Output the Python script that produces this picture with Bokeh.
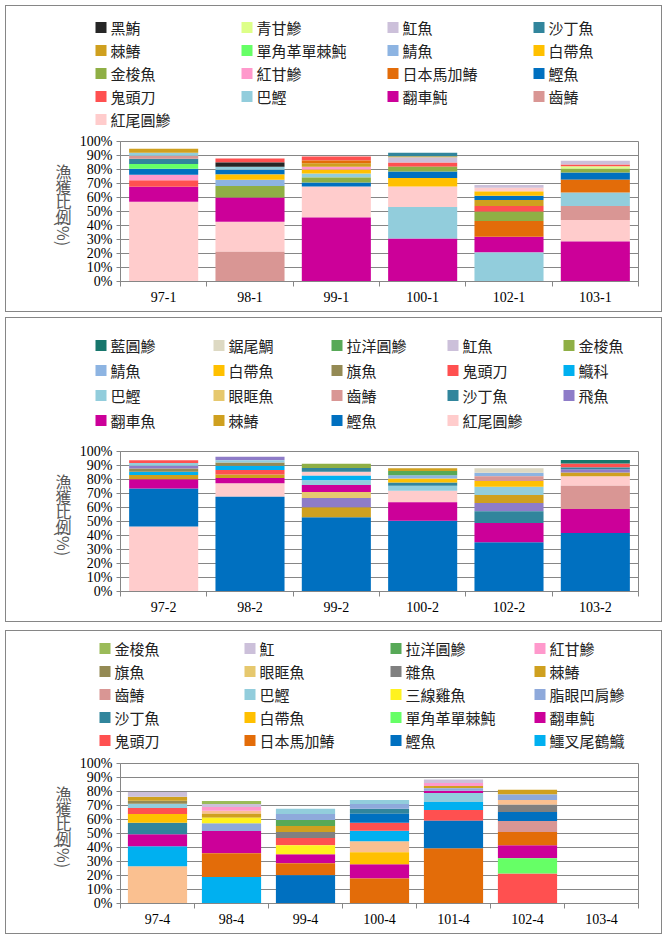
import math
from bokeh.plotting import figure
from bokeh.models import (FixedTicker, Range1d, Spacer, ColumnDataSource, PrintfTickFormatter)
from bokeh.core.properties import value
from bokeh.layouts import column, row
from bokeh.embed import file_html
from bokeh.resources import INLINE

# ---------------- colours per species ----------------
COLORS = {
    "黑鮪": "#262626", "青甘鰺": "#DDFF88", "魟魚": "#CCC0DA", "魟": "#CCC0DA",
    "沙丁魚": "#31859C", "棘鰆": "#CFA01F", "單角革單棘魨": "#66FF66",
    "鯖魚": "#8DB4E2", "白帶魚": "#FFC000", "金梭魚": "#8FAF45",
    "紅甘鰺": "#FF99CC", "日本馬加鰆": "#E36C09", "鰹魚": "#0070C0",
    "鬼頭刀": "#FF5050", "巴鰹": "#92CDDC", "翻車魨": "#CC0099", "翻車魚": "#CC0099",
    "齒鰆": "#D99694", "紅尾圓鰺": "#FFCCCC", "藍圓鰺": "#17766C",
    "鋸尾鯛": "#DDD9C3", "拉洋圓鰺": "#57A957", "旗魚": "#948A54",
    "鱵科": "#00B0F0", "眼眶魚": "#E6C86E", "飛魚": "#8E7CC8",
    "雜魚": "#808080", "三線雞魚": "#FFF21F", "脂眼凹肩鰺": "#8EA9DB",
    "鱷叉尾鶴鱵": "#00B0F0",
}
P3_COLORS = dict(COLORS, **{"紅尾圓鰺": "#FAC090", "金梭魚": "#9BBB59"})

# ---------------- panel 1 ----------------
P1_CATS = ["97-1", "98-1", "99-1", "100-1", "102-1", "103-1"]
P1_LEGEND = ["黑鮪", "青甘鰺", "魟魚", "沙丁魚", "棘鰆", "單角革單棘魨", "鯖魚", "白帶魚",
             "金梭魚", "紅甘鰺", "日本馬加鰆", "鰹魚", "鬼頭刀", "巴鰹", "翻車魨", "齒鰆",
             "紅尾圓鰺"]
P1_SPECIES = [
    ["紅尾圓鰺", "翻車魨", "鬼頭刀", "紅甘鰺", "鰹魚", "單角革單棘魨", "沙丁魚", "齒鰆", "巴鰹", "棘鰆"],
    ["齒鰆", "紅尾圓鰺", "翻車魨", "金梭魚", "鯖魚", "白帶魚", "鰹魚", "巴鰹", "黑鮪", "鬼頭刀"],
    ["翻車魨", "紅尾圓鰺", "鰹魚", "金梭魚", "巴鰹", "白帶魚", "紅甘鰺", "棘鰆", "日本馬加鰆", "鬼頭刀"],
    ["翻車魨", "巴鰹", "紅尾圓鰺", "白帶魚", "鰹魚", "金梭魚", "鬼頭刀", "魟魚", "棘鰆", "沙丁魚"],
    ["巴鰹", "翻車魨", "日本馬加鰆", "金梭魚", "鬼頭刀", "棘鰆", "鰹魚", "白帶魚", "紅尾圓鰺", "魟魚"],
    ["翻車魨", "紅尾圓鰺", "齒鰆", "巴鰹", "日本馬加鰆", "鰹魚", "金梭魚", "青甘鰺", "鬼頭刀", "魟魚"],
]
P1_VALUES = [
    [56.9, 10.7, 4.8, 3.8, 4.3, 3.5, 3.6, 2.2, 2.1, 2.9],
    [21.2, 21.4, 17.4, 8.3, 4.3, 3.8, 3.4, 2.1, 3.1, 2.9],
    [45.7, 22.2, 2.8, 3.6, 2.8, 2.7, 2.1, 2.6, 1.9, 2.9],
    [30.7, 22.6, 14.6, 6.1, 4.6, 3.3, 3.1, 3.6, 0.7, 2.6],
    [20.7, 11.2, 11.4, 6.5, 4.2, 4.3, 2.9, 3.1, 2.6, 2.1],
    [28.6, 15.4, 10.0, 9.6, 9.0, 5.3, 2.8, 1.4, 1.5, 2.6],
]

# ---------------- panel 2 ----------------
P2_CATS = ["97-2", "98-2", "99-2", "100-2", "102-2", "103-2"]
P2_LEGEND = ["藍圓鰺", "鋸尾鯛", "拉洋圓鰺", "魟魚", "金梭魚", "鯖魚", "白帶魚", "旗魚",
             "鬼頭刀", "鱵科", "巴鰹", "眼眶魚", "齒鰆", "沙丁魚", "飛魚", "翻車魚", "棘鰆",
             "鰹魚", "紅尾圓鰺"]
P2_SPECIES = [
    ["紅尾圓鰺", "鰹魚", "翻車魚", "棘鰆", "鱵科", "旗魚", "飛魚", "巴鰹", "鬼頭刀"],
    ["鰹魚", "紅尾圓鰺", "翻車魚", "棘鰆", "鬼頭刀", "鱵科", "旗魚", "巴鰹", "飛魚"],
    ["鰹魚", "棘鰆", "飛魚", "眼眶魚", "翻車魚", "巴鰹", "鱵科", "紅尾圓鰺", "沙丁魚", "金梭魚"],
    ["鰹魚", "翻車魚", "紅尾圓鰺", "巴鰹", "沙丁魚", "白帶魚", "鯖魚", "拉洋圓鰺", "棘鰆"],
    ["鰹魚", "翻車魚", "沙丁魚", "飛魚", "棘鰆", "巴鰹", "白帶魚", "齒鰆", "鯖魚", "鋸尾鯛"],
    ["鰹魚", "翻車魚", "齒鰆", "紅尾圓鰺", "棘鰆", "飛魚", "沙丁魚", "鬼頭刀", "藍圓鰺"],
]
P2_VALUES = [
    [46.4, 27.2, 6.6, 3.1, 2.2, 2.4, 1.9, 1.9, 2.1],
    [67.6, 9.8, 3.6, 2.6, 3.1, 3.1, 2.3, 1.7, 2.4],
    [53.1, 7.1, 6.5, 4.3, 5.0, 3.3, 3.3, 2.9, 2.8, 2.9],
    [50.5, 13.3, 8.1, 3.6, 2.4, 2.8, 2.4, 2.9, 2.1],
    [35.2, 13.8, 8.4, 5.9, 5.7, 5.8, 4.2, 3.4, 2.4, 3.3],
    [41.7, 17.3, 16.5, 6.9, 2.6, 2.4, 1.2, 2.8, 2.6],
]

# ---------------- panel 3 ----------------
P3_CATS = ["97-4", "98-4", "99-4", "100-4", "101-4", "102-4", "103-4"]
P3_LEGEND = ["金梭魚", "魟", "拉洋圓鰺", "紅甘鰺", "旗魚", "眼眶魚", "雜魚", "棘鰆",
             "齒鰆", "巴鰹", "三線雞魚", "脂眼凹肩鰺", "沙丁魚", "白帶魚", "單角革單棘魨", "翻車魨",
             "鬼頭刀", "日本馬加鰆", "鰹魚", "鱷叉尾鶴鱵"]
P3_SPECIES = [
    ["紅尾圓鰺", "鱷叉尾鶴鱵", "翻車魨", "沙丁魚", "白帶魚", "鬼頭刀", "巴鰹", "旗魚", "棘鰆", "魟"],
    ["鱷叉尾鶴鱵", "日本馬加鰆", "翻車魨", "脂眼凹肩鰺", "三線雞魚", "棘鰆", "紅尾圓鰺", "紅甘鰺", "魟", "金梭魚"],
    ["鰹魚", "日本馬加鰆", "翻車魨", "三線雞魚", "鬼頭刀", "雜魚", "棘鰆", "拉洋圓鰺", "脂眼凹肩鰺", "巴鰹"],
    ["日本馬加鰆", "翻車魨", "白帶魚", "紅尾圓鰺", "鱷叉尾鶴鱵", "鬼頭刀", "鰹魚", "沙丁魚", "脂眼凹肩鰺", "巴鰹"],
    ["日本馬加鰆", "鰹魚", "鬼頭刀", "鱷叉尾鶴鱵", "巴鰹", "翻車魨", "脂眼凹肩鰺", "棘鰆", "紅甘鰺", "魟"],
    ["鬼頭刀", "單角革單棘魨", "翻車魨", "日本馬加鰆", "齒鰆", "鰹魚", "雜魚", "紅尾圓鰺", "脂眼凹肩鰺", "棘鰆"],
    [],
]
P3_VALUES = [
    [26.6, 14.3, 8.6, 8.2, 6.2, 4.3, 3.1, 2.1, 2.9, 3.4],
    [18.9, 17.0, 15.8, 5.7, 3.8, 2.9, 2.2, 2.6, 2.2, 2.1],
    [20.1, 8.6, 6.5, 6.4, 5.1, 4.3, 4.3, 4.3, 4.3, 3.8],
    [17.9, 10.1, 8.6, 7.9, 7.4, 5.8, 6.4, 3.6, 3.4, 2.8],
    [39.5, 19.6, 7.6, 5.8, 6.4, 1.7, 1.7, 1.7, 2.1, 2.4],
    [21.5, 10.8, 9.3, 9.4, 7.9, 6.4, 5.3, 3.3, 3.9, 3.5],
    [],
]

Y_TICKS = [0, 10, 20, 30, 40, 50, 60, 70, 80, 90, 100]
Y_TITLE_CHARS = ["漁", "獲", "比", "例"]
Y_TITLE_TAIL = "(%)"

GRID = "#868686"
WIDTH = 655
TITLE_W = 70
CHART_H = 180
FRAME_TOP = 10
CJK = value("Noto Sans CJK TC")


def bare_fig(w, h):
    f = figure(width=w, height=h, x_range=Range1d(0, w), y_range=Range1d(0, h),
               output_backend="svg", toolbar_location=None,
               x_axis_type=None, y_axis_type=None, min_border=0)
    f.grid.visible = False
    f.outline_line_color = None
    return f


def make_legend_fig(legend_order, colors, height, cols_x, row0, pitch, ncols):
    lf = bare_fig(WIDTH, height)
    sw = 11
    left, right, bot, top, cy, tx, cols = [], [], [], [], [], [], []
    for k, sp in enumerate(legend_order):
        r, c = divmod(k, ncols)
        yc = height - (row0 + r * pitch)
        left.append(cols_x[c]); right.append(cols_x[c] + sw)
        bot.append(yc - sw / 2); top.append(yc + sw / 2)
        cy.append(yc); tx.append(cols_x[c] + sw + 4); cols.append(colors[sp])
    src = ColumnDataSource(dict(left=left, right=right, bottom=bot, top=top, y=cy, tx=tx,
                                color=cols, label=list(legend_order)))
    lf.quad(left="left", right="right", bottom="bottom", top="top", fill_color="color",
            line_color=None, source=src)
    lf.text(x="tx", y="y", text="label", source=src, text_font=CJK,
            text_font_size="15px", text_color="#222222", text_baseline="middle",
            text_align="left")
    return lf


def make_title_fig():
    tf = bare_fig(TITLE_W, CHART_H)
    ys_from_frame_top = [28, 48, 67, 86]
    xs = [57] * len(Y_TITLE_CHARS)
    ys = [CHART_H - FRAME_TOP - d for d in ys_from_frame_top]
    tf.text(x=xs, y=ys, text=Y_TITLE_CHARS, text_font=CJK, text_font_size="16px",
            text_color="#595959", text_align="center", text_baseline="middle")
    tf.text(x=[57], y=[CHART_H - FRAME_TOP - 108], text=[Y_TITLE_TAIL], angle=-math.pi / 2,
            text_font=CJK, text_font_size="16px", text_color="#595959",
            text_align="center", text_baseline="middle")
    return tf


def make_chart(cats, species_rows, value_rows, colors):
    n = len(cats)
    p = figure(width=WIDTH - TITLE_W, height=CHART_H, x_range=Range1d(-0.5, n - 0.5),
               y_range=Range1d(0, 100), output_backend="svg", toolbar_location=None,
               min_border_left=114 - TITLE_W, min_border_right=23,
               min_border_top=FRAME_TOP, min_border_bottom=30)
    p.outline_line_color = GRID
    p.xgrid.grid_line_color = None
    p.ygrid.grid_line_color = GRID
    p.ygrid.ticker = FixedTicker(ticks=Y_TICKS)

    ya = p.yaxis[0]
    ya.ticker = FixedTicker(ticks=Y_TICKS)
    ya.formatter = PrintfTickFormatter(format="%d%%")
    ya.axis_line_color = GRID
    ya.major_tick_line_color = GRID
    ya.major_tick_out = 4
    ya.major_tick_in = 0
    ya.minor_tick_line_color = None
    ya.major_label_text_font = "Liberation Serif"
    ya.major_label_text_font_size = "14px"
    ya.major_label_text_color = "#000000"
    ya.major_label_standoff = 4

    xa = p.xaxis[0]
    xa.ticker = FixedTicker(ticks=list(range(n)), minor_ticks=[i - 0.5 for i in range(n + 1)])
    xa.major_label_overrides = {i: c for i, c in enumerate(cats)}
    xa.axis_line_color = GRID
    xa.major_tick_line_color = None
    xa.major_tick_out = 5
    xa.major_tick_in = 0
    xa.minor_tick_line_color = GRID
    xa.minor_tick_out = 5
    xa.minor_tick_in = 0
    xa.major_label_text_font = "Liberation Serif"
    xa.major_label_text_font_size = "14px"
    xa.major_label_text_color = "#000000"
    xa.major_label_standoff = 5

    data = {}
    for i, (sps, vals) in enumerate(zip(species_rows, value_rows)):
        cum = 0.0
        for sp, v in zip(sps, vals):
            d = data.setdefault(sp, {"x": [], "bottom": [], "top": []})
            d["x"].append(i)
            d["bottom"].append(cum)
            d["top"].append(cum + v)
            cum += v
    for sp, d in data.items():
        p.vbar(x="x", bottom="bottom", top="top", width=0.8,
               source=ColumnDataSource(d), fill_color=colors[sp], line_color=None)
    return p


def make_panel(cats, sp_rows, val_rows, legend_order, colors, leg_h, cols_x, row0, pitch, ncols):
    lf = make_legend_fig(legend_order, colors, leg_h, cols_x, row0, pitch, ncols)
    body = row(make_title_fig(), make_chart(cats, sp_rows, val_rows, colors), spacing=0)
    return column(lf, body, spacing=0, styles={"border": "1px solid #868686"})


panel1 = make_panel(P1_CATS, P1_SPECIES, P1_VALUES, P1_LEGEND, COLORS, 125,
                    [89, 235, 381, 527], 21, 23, 4)
panel2 = make_panel(P2_CATS, P2_SPECIES, P2_VALUES, P2_LEGEND, COLORS, 123,
                    [89, 207, 325, 441, 557], 27, 25, 5)
panel3 = make_panel(P3_CATS, P3_SPECIES, P3_VALUES, P3_LEGEND, P3_COLORS, 122,
                    [93, 238, 384, 528], 17, 23, 4)

stack = column(panel1, Spacer(height=5), panel2, Spacer(height=8), panel3, spacing=0)
layout = column(Spacer(height=5), row(Spacer(width=5), stack, spacing=0), spacing=0)
open("out.html", "w").write(file_html(layout, INLINE))
